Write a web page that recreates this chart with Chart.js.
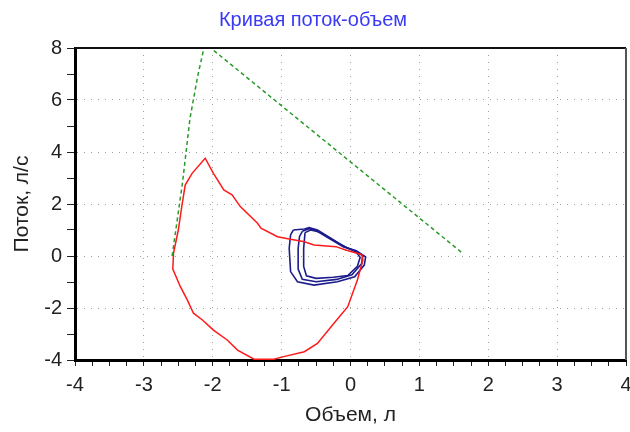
<!DOCTYPE html>
<html>
<head>
<meta charset="utf-8">
<script src="https://cdn.jsdelivr.net/npm/chart.js@4"></script>
<style>
  html, body { margin: 0; padding: 0; background: #fff; }
  #wrap { width: 630px; height: 432px; }
</style>
</head>
<body>
<div id="wrap"><canvas id="flowChart" width="630" height="432"></canvas></div>
<script>
// Кривая поток-объем: данные
const chartTitle = 'Кривая поток-объем';
const xTitle = 'Объем, л';
const yTitle = 'Поток, л/с';

// Прогнозная кривая (зелёный пунктир)
const predVolume = [-2.59, -2.44, -2.33, -2.22, -2.12, -2.03, 1.64];
const predFlow   = [0.0, 2.8, 5.3, 6.9, 8.1, 8.0, 0.08];

// Форсированная петля (красная)
const forcedVolume = [0.17, -0.07, -0.21, -0.53, -0.67, -0.89, -1.06, -1.30, -1.35, -1.60, -1.72, -1.84, -1.99, -2.11,
  -2.30, -2.40, -2.45, -2.50, -2.57, -2.58, -2.47, -2.37, -2.28, -2.15, -1.99, -1.79, -1.64, -1.40, -1.11,
  -0.97, -0.67, -0.48, -0.24, -0.04, 0.10, 0.18, 0.17];
const forcedFlow = [0.05, 0.23, 0.36, 0.42, 0.55, 0.65, 0.74, 1.07, 1.26, 1.90, 2.35, 2.54, 3.18, 3.76,
  3.18, 2.73, 1.90, 1.00, 0.10, -0.5, -1.18, -1.69, -2.2, -2.46, -2.85, -3.23, -3.62, -3.97, -3.97,
  -3.87, -3.68, -3.36, -2.59, -1.95, -0.92, -0.15, 0.05];

// Спокойное дыхание (синие петли)
const tidal1Volume = [-0.83, -0.67, -0.60, -0.48, -0.28, -0.09, 0.10, 0.22, 0.20, 0.06, -0.19, -0.53, -0.77, -0.87, -0.89, -0.87, -0.83];
const tidal1Flow   = [1.0, 1.04, 1.09, 1.0, 0.68, 0.36, 0.17, -0.03, -0.35, -0.8, -0.99, -1.12, -0.99, -0.6, 0.3, 0.81, 1.0];
const tidal2Volume = [-0.70, -0.60, -0.50, -0.30, -0.10, 0.08, 0.18, 0.16, 0.02, -0.20, -0.50, -0.70, -0.76, -0.76, -0.74, -0.70];
const tidal2Flow   = [0.95, 1.05, 0.98, 0.66, 0.35, 0.2, 0.0, -0.3, -0.72, -0.9, -0.99, -0.9, -0.5, 0.3, 0.75, 0.95];
const tidal3Volume = [-0.66, -0.58, -0.45, -0.25, -0.05, 0.08, 0.14, 0.10, -0.04, -0.25, -0.50, -0.64, -0.68, -0.68, -0.66];
const tidal3Flow   = [0.9, 1.0, 0.92, 0.6, 0.32, 0.15, -0.05, -0.4, -0.75, -0.82, -0.86, -0.76, -0.4, 0.3, 0.9];

const xMin = -4, xMax = 4;
const yMin = -4, yMax = 8;

function toPoints(xs, ys) {
    return xs.map((x, i) => ({ x: x, y: ys[i] }));
}

function lineSet(xs, ys, color, width, dash) {
    return {
        data: toPoints(xs, ys),
        showLine: true,
        borderColor: color,
        borderWidth: width,
        borderDash: dash || [],
        pointRadius: 0,
        tension: 0,
        fill: false
    };
}

// рамка сверху и справа
const framePlugin = {
    id: 'frame',
    afterDraw(chart) {
        const a = chart.chartArea;
        const ctx = chart.ctx;
        ctx.save();
        ctx.lineWidth = 2;
        ctx.strokeStyle = '#111';
        ctx.beginPath();
        ctx.moveTo(a.left, a.top);
        ctx.lineTo(a.right, a.top);
        ctx.stroke();
        ctx.strokeStyle = '#555';
        ctx.beginPath();
        ctx.moveTo(a.right, a.top);
        ctx.lineTo(a.right, a.bottom);
        ctx.stroke();
        ctx.restore();
    }
};

const ctx = document.getElementById('flowChart').getContext('2d');
const flowChart = new Chart(ctx, {
    type: 'scatter',
    data: {
        datasets: [
            lineSet(predVolume, predFlow, '#2a9a2a', 1.5, [4, 3]),
            lineSet(forcedVolume, forcedFlow, '#ff1a1a', 1.5),
            lineSet(tidal1Volume, tidal1Flow, '#1c1c8c', 1.6),
            lineSet(tidal2Volume, tidal2Flow, '#1c1c8c', 1.6),
            lineSet(tidal3Volume, tidal3Flow, '#1c1c8c', 1.6)
        ]
    },
    options: {
        responsive: false,
        animation: false,
        layout: { padding: { left: 0, right: 4, top: 0, bottom: 0 } },
        plugins: {
            legend: { display: false },
            tooltip: { enabled: false },
            title: {
                display: true,
                text: chartTitle,
                color: '#3a3af5',
                font: { family: 'Liberation Sans', size: 20, weight: 'normal' },
                padding: { top: 8, bottom: 16 }
            }
        },
        scales: {
            x: {
                type: 'linear',
                min: xMin,
                max: xMax,
                afterFit: function(scale) {
                    scale.height = 72;
                    scale.paddingLeft = 0;
                    scale.paddingRight = 0;
                },
                ticks: {
                    stepSize: 0.25,
                    autoSkip: false,
                    maxRotation: 0,
                    color: '#222',
                    font: { family: 'Liberation Sans', size: 20 },
                    padding: 7,
                    callback: function(value) {
                        return Number.isInteger(value) ? String(value) : '';
                    }
                },
                grid: {
                    color: function(c) {
                        const v = c.tick ? c.tick.value : null;
                        if (v === null || !Number.isInteger(v) || v === xMin || v === xMax) return 'rgba(0,0,0,0)';
                        return '#a0a0a0';
                    },
                    tickColor: '#222',
                    tickLength: 6,
                    lineWidth: 1
                },
                border: { display: true, color: '#000', width: 3, dash: [1, 6] },
                title: {
                    display: true,
                    text: xTitle,
                    color: '#222',
                    font: { family: 'Liberation Sans', size: 21 },
                    padding: { top: 2, bottom: 4 }
                }
            },
            y: {
                type: 'linear',
                min: yMin,
                max: yMax,
                afterFit: function(scale) {
                    scale.width = 75;
                    scale.paddingTop = 0;
                    scale.paddingBottom = 0;
                },
                ticks: {
                    stepSize: 1,
                    autoSkip: false,
                    color: '#222',
                    font: { family: 'Liberation Sans', size: 20 },
                    padding: 5,
                    callback: function(value) {
                        return value % 2 === 0 ? String(value) : '';
                    }
                },
                grid: {
                    color: function(c) {
                        const v = c.tick ? c.tick.value : null;
                        if (v === null || v % 2 !== 0 || v === yMin || v === yMax) return 'rgba(0,0,0,0)';
                        return '#a0a0a0';
                    },
                    tickColor: '#222',
                    tickLength: 8,
                    lineWidth: 1
                },
                border: { display: true, color: '#000', width: 3, dash: [1, 6] },
                title: {
                    display: true,
                    text: yTitle,
                    color: '#222',
                    font: { family: 'Liberation Sans', size: 21 },
                    padding: { top: 10, bottom: 0 }
                }
            }
        }
    },
    plugins: [framePlugin]
});
</script>
</body>
</html>
